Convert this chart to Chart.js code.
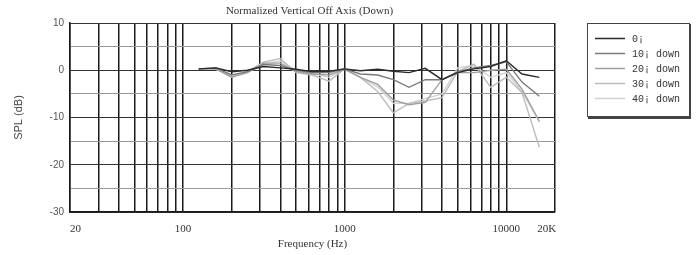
<!DOCTYPE html>
<html>
<head>
<meta charset="utf-8">
<script src="https://cdn.jsdelivr.net/npm/chart.js@4"></script>
<style>
  body { margin: 0; background: #fff; }
  canvas { display: block; }
</style>
</head>
<body>
<canvas id="offAxis" width="697" height="255"></canvas>
<script>
// 1/3 octave centre frequencies (Hz)
const freqs = [125, 160, 200, 250, 315, 400, 500, 630, 800, 1000, 1250, 1600,
  2000, 2500, 3150, 4000, 5000, 6300, 8000, 10000, 12500, 16000];

// normalized SPL (dB)
const deg0  = [0.3, 0.5, -0.3, 0.0, 0.8, 0.5, 0.2, -0.3, -0.2, 0.3, -0.1, 0.2, -0.2, -0.5, 0.4, -2.0, -0.5, 0.3, 0.8, 2.0, -0.8, -1.5];
const deg10 = [0.3, 0.5, -1.0, -0.3, 1.2, 1.0, 0.0, -0.5, -0.5, 0.3, -0.8, -1.0, -2.0, -3.6, -2.0, -2.0, -0.3, 0.5, 1.0, 1.8, -2.5, -5.5];
const deg20 = [0.3, 0.3, -1.5, -0.5, 1.5, 1.5, -0.3, -0.8, -1.0, 0.2, -1.5, -3.0, -6.3, -7.3, -6.8, -2.0, -0.5, -0.5, 0.0, 0.2, -4.0, -10.8];
const deg30 = [0.3, 0.3, -1.5, -0.3, 1.7, 2.5, -0.5, -1.0, -2.3, 0.3, -1.5, -4.5, -9.0, -7.0, -6.5, -5.8, -0.3, 1.3, -3.6, -1.5, -4.7, -16.3];
const deg40 = [0.2, 0.2, -1.2, -0.5, 1.3, 2.0, 0.0, -0.7, -1.5, 0.3, -1.5, -3.5, -7.0, -7.0, -6.0, -5.0, 0.5, 1.0, -1.5, -0.5, -4.5, -11.0];

const seriesNames = ['0¡', '10¡ down', '20¡ down', '30¡ down', '40¡ down'];
const seriesValues = [deg0, deg10, deg20, deg30, deg40];
const seriesColors = ['#2a2a2a', '#7a7a7a', '#a0a0a0', '#bdbdbd', '#d2d2d2'];

const xGrid = [20, 30, 40, 50, 60, 70, 80, 90, 100, 200, 300, 400, 500, 600, 700, 800, 900,
  1000, 2000, 3000, 4000, 5000, 6000, 7000, 8000, 9000, 10000, 20000];
// end labels sit a little inside the plot in the original
const xLabels = { 20: '\u200320', 100: '100', 1000: '1000', 10000: '10000', 20000: '20K\u2003\u2002' };
const yLabels = [10, 0, -10, -20, -30];

const datasets = seriesValues.map((vals, i) => ({
  label: seriesNames[i],
  data: freqs.map((f, j) => ({ x: f, y: vals[j] })),
  borderColor: seriesColors[i],
  borderWidth: 1.4,
  pointRadius: 0,
  tension: 0,
  fill: false
}));

// title + boxed legend, drawn by hand
const decor = {
  id: 'decor',
  afterDraw(chart) {
    const ctx = chart.ctx;
    const area = chart.chartArea;
    ctx.save();
    ctx.fillStyle = '#333';
    ctx.font = '11px "Liberation Serif"';
    ctx.textAlign = 'center';
    ctx.textBaseline = 'middle';
    ctx.fillText('Normalized Vertical Off Axis (Down)', (area.left + area.right) / 2 - 3, 11);

    ctx.strokeStyle = '#444';
    ctx.lineWidth = 1;
    ctx.strokeRect(587.5, 23.5, 102, 93);
    ctx.lineWidth = 2;
    ctx.beginPath();
    ctx.moveTo(690, 24); ctx.lineTo(690, 118); ctx.lineTo(588, 118);
    ctx.stroke();

    ctx.font = '10px "Liberation Mono"';
    ctx.textAlign = 'left';
    chart.data.datasets.forEach((ds, i) => {
      const y = 38 + i * 15;
      ctx.strokeStyle = ds.borderColor;
      ctx.lineWidth = 1.5;
      ctx.beginPath();
      ctx.moveTo(595, y + 0.5); ctx.lineTo(625, y + 0.5);
      ctx.stroke();
      ctx.fillStyle = '#333';
      ctx.fillText(ds.label, 632, y + 1);
    });
    ctx.restore();
  }
};

new Chart(document.getElementById('offAxis'), {
  type: 'line',
  data: { datasets },
  plugins: [decor],
  options: {
    responsive: false,
    animation: false,
    layout: { padding: { top: 23, right: 142, left: 0, bottom: 0 } },
    plugins: {
      legend: { display: false },
      title: { display: false },
      tooltip: { enabled: false }
    },
    scales: {
      x: {
        type: 'logarithmic',
        min: 20,
        max: 20000,
        afterBuildTicks: s => { s.ticks = xGrid.map(v => ({ value: v })); },
        afterFit: s => { s.height = 43; },
        grid: { color: '#1a1a1a', lineWidth: 1.5, drawTicks: false },
        border: { color: '#1a1a1a', width: 1.5 },
        ticks: {
          autoSkip: false,
          maxRotation: 0,
          padding: 11,
          color: '#333',
          font: { family: '"Liberation Serif"', size: 11 },
          callback: v => xLabels[v] || ''
        },
        title: {
          display: true,
          text: 'Frequency (Hz)',
          color: '#333',
          font: { family: '"Liberation Serif"', size: 11 },
          padding: { top: 2 }
        }
      },
      y: {
        min: -30,
        max: 10,
        afterBuildTicks: s => {
          const t = [];
          for (let v = 10; v >= -30; v -= 5) t.push({ value: v });
          s.ticks = t;
        },
        afterFit: s => { s.width = 70; },
        grid: {
          drawTicks: false,
          color: c => (c.tick.value % 10 === 0 ? '#333' : '#9a9a9a'),
          lineWidth: 1
        },
        border: { color: '#1a1a1a', width: 1.5 },
        ticks: {
          padding: 6,
          color: '#555',
          font: { family: '"Liberation Sans"', size: 10 },
          callback: v => (yLabels.includes(v) ? String(v) : '')
        },
        title: {
          display: true,
          text: 'SPL (dB)',
          color: '#444',
          font: { family: '"Liberation Sans"', size: 11 },
          padding: { top: 12 }
        }
      }
    }
  }
});
</script>
</body>
</html>
